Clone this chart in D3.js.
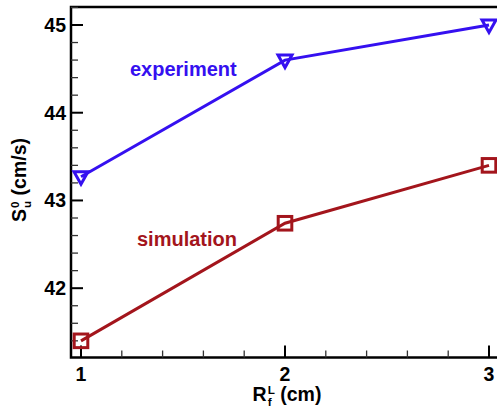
<!DOCTYPE html>
<html>
<head>
<meta charset="utf-8">
<script src="https://cdn.jsdelivr.net/npm/d3@7"></script>
<style>
  html, body { margin: 0; padding: 0; background: #fff; }
  svg { display: block; }
  text { font-family: "Liberation Sans", Arial, Helvetica, sans-serif; font-weight: bold; }
</style>
</head>
<body>
<svg id="chart" width="497" height="410"></svg>
<script>
// Flame radius R_f^L (cm) and laminar burning speed S_u^0 (cm/s)
const radii = [1, 2, 3];
const experiment = [43.27, 44.60, 45.00];
const simulation = [41.40, 42.74, 43.40];
const xTicks = [1, 2, 3];
const yTicks = [42, 43, 44, 45];

const blue = "#3510f0";
const red = "#a3151c";

const svg = d3.select("#chart");

const plotLeft = 71, plotRight = 499, plotTop = 7, plotBottom = 357.5;

const x = d3.scaleLinear().domain([0.951, 3.049]).range([plotLeft, plotRight]);
const y = d3.scaleLinear().domain([41.21, 45.205]).range([plotBottom, plotTop]);

// plot frame
svg.append("rect")
  .attr("x", plotLeft).attr("y", plotTop)
  .attr("width", plotRight - plotLeft).attr("height", plotBottom - plotTop)
  .attr("fill", "none").attr("stroke", "#000").attr("stroke-width", 2.5);

// minor ticks (every 0.2), drawn inward
const xMinor = d3.range(1, 3.001, 0.2).filter(v => Math.abs(v - Math.round(v)) > 1e-6);
const yMinor = d3.range(41.4, 45.201, 0.2).filter(v => Math.abs(v - Math.round(v)) > 1e-6);

const ticks = svg.append("g");
ticks.selectAll(".xm").data(xMinor).join("line")
  .attr("x1", d => x(d)).attr("x2", d => x(d))
  .attr("y1", plotBottom).attr("y2", plotBottom - 7)
  .attr("stroke", "#333").attr("stroke-width", 1.3);
ticks.selectAll(".ym").data(yMinor).join("line")
  .attr("x1", plotLeft).attr("x2", plotLeft + 7)
  .attr("y1", d => y(d)).attr("y2", d => y(d))
  .attr("stroke", "#333").attr("stroke-width", 1.3);

// major ticks
ticks.selectAll(".xM").data(xTicks).join("line")
  .attr("x1", d => x(d)).attr("x2", d => x(d))
  .attr("y1", plotBottom).attr("y2", plotBottom - 12)
  .attr("stroke", "#000").attr("stroke-width", 2);
ticks.selectAll(".yM").data(yTicks).join("line")
  .attr("x1", plotLeft).attr("x2", plotLeft + 12)
  .attr("y1", d => y(d)).attr("y2", d => y(d))
  .attr("stroke", "#000").attr("stroke-width", 2);

// tick labels
svg.append("g").selectAll("text").data(xTicks).join("text")
  .attr("x", d => x(d)).attr("y", 381)
  .attr("text-anchor", "middle").attr("font-size", 19.5)
  .text(d => d);
svg.append("g").selectAll("text").data(yTicks).join("text")
  .attr("x", 66).attr("y", d => y(d) + 7)
  .attr("text-anchor", "end").attr("font-size", 19.5)
  .text(d => d);

// composed label: main letter with stacked sub/superscript, then trailing text
function composedLabel(g, main, sup, sub, rest, size) {
  const t1 = g.append("text").attr("font-size", size).attr("x", 0).attr("y", 0).text(main);
  const w1 = t1.node().getComputedTextLength();
  const small = size * 0.6;
  const tSup = g.append("text").attr("font-size", small).attr("x", w1 + 1).attr("y", -size * 0.37).text(sup);
  const tSub = g.append("text").attr("font-size", small).attr("x", w1 + 1).attr("y", size * 0.28).text(sub);
  const w2 = Math.max(tSup.node().getComputedTextLength(), tSub.node().getComputedTextLength());
  const t3 = g.append("text").attr("font-size", size).attr("x", w1 + 1 + w2).attr("y", 0).text(rest);
  return w1 + 1 + w2 + t3.node().getComputedTextLength();
}

const xl = svg.append("g");
const xw = composedLabel(xl, "R", "L", "f", "\u00a0(cm)", 19.5);
xl.attr("transform", `translate(${287 - xw / 2},401)`);

const yl = svg.append("g");
const yw = composedLabel(yl, "S", "0", "u", "\u00a0(cm/s)", 19.5);
yl.attr("transform", `translate(26,${180 + yw / 2}) rotate(-90)`);

// series
const line = d3.line().x((d, i) => x(radii[i])).y(d => y(d));

const plot = svg.append("g");
plot.append("path").datum(experiment).attr("d", line)
  .attr("fill", "none").attr("stroke", blue).attr("stroke-width", 3);
plot.append("path").datum(simulation).attr("d", line)
  .attr("fill", "none").attr("stroke", red).attr("stroke-width", 3);

// open downward triangles
plot.selectAll(".tri").data(experiment).join("path")
  .attr("d", "M-7,-5L7,-5L0,7.5Z")
  .attr("transform", (d, i) => `translate(${x(radii[i])},${y(d)})`)
  .attr("fill", "none").attr("stroke", blue).attr("stroke-width", 3)
  .attr("stroke-linejoin", "miter");

// open squares
plot.selectAll(".sq").data(simulation).join("rect")
  .attr("x", (d, i) => x(radii[i]) - 6.8).attr("y", d => y(d) - 6.8)
  .attr("width", 13.6).attr("height", 13.6)
  .attr("fill", "none").attr("stroke", red).attr("stroke-width", 3);

// series labels
svg.append("text").attr("x", 130).attr("y", 76).attr("font-size", 20)
  .attr("fill", blue).text("experiment");
svg.append("text").attr("x", 137).attr("y", 246).attr("font-size", 20)
  .attr("fill", red).text("simulation");
</script>
</body>
</html>
